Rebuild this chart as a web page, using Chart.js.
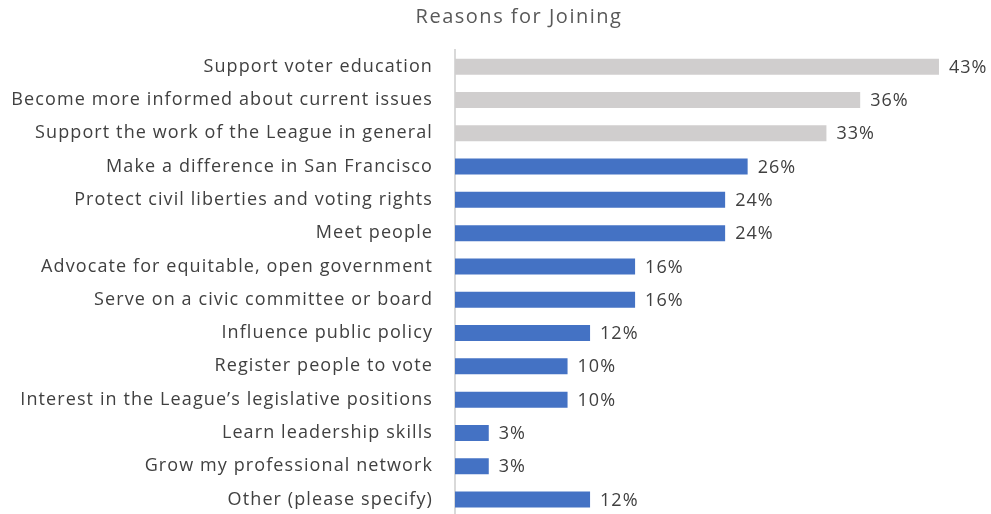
<!DOCTYPE html>
<html>
<head>
<meta charset="utf-8">
<script src="https://cdn.jsdelivr.net/npm/chart.js@4"></script>
<style>
  html, body { margin: 0; padding: 0; background: #fff; overflow: hidden; }
</style>
</head>
<body>
<!-- taller than the window: the reference crops the last row's band at the bottom -->
<canvas id="myChart" width="991" height="549"></canvas>
<script>
var reasons = [
  "Support voter education",
  "Become more informed about current issues",
  "Support the work of the League in general",
  "Make a difference in San Francisco",
  "Protect civil liberties and voting rights",
  "Meet people",
  "Advocate for equitable, open government",
  "Serve on a civic committee or board",
  "Influence public policy",
  "Register people to vote",
  "Interest in the League\u2019s legislative positions",
  "Learn leadership skills",
  "Grow my professional network",
  "Other (please specify)"
];
var percents = [43, 36, 33, 26, 24, 24, 16, 16, 12, 10, 10, 3, 3, 12];
var barColors = ["#D0CECE", "#D0CECE", "#D0CECE", "#4472C4", "#4472C4", "#4472C4", "#4472C4",
  "#4472C4", "#4472C4", "#4472C4", "#4472C4", "#4472C4", "#4472C4", "#4472C4"];

var fontFamily = "'Open Sans', sans-serif";

// the original text is set a little loose, so widen the letters a bit
var spacing = {
  id: "spacing",
  beforeUpdate: function(chart) { chart.ctx.letterSpacing = "1.1px"; },
  beforeDraw: function(chart) { chart.ctx.letterSpacing = "1.1px"; }
};

// title drawn by hand so it sits where the original has it
var titlePlugin = {
  id: "titleText",
  afterDraw: function(chart) {
    var c = chart.ctx;
    c.save();
    c.font = "20px " + fontFamily;
    c.letterSpacing = "1.5px";
    c.fillStyle = "#595959";
    c.textAlign = "center";
    c.textBaseline = "middle";
    c.fillText("Reasons for Joining", 519, 17);
    c.restore();
  }
};

// value labels at the end of each bar
var valueLabels = {
  id: "valueLabels",
  afterDatasetsDraw: function(chart) {
    var c = chart.ctx;
    var meta = chart.getDatasetMeta(0);
    c.save();
    c.font = "18px " + fontFamily;
    c.letterSpacing = "1px";
    c.fillStyle = "#404040";
    c.textAlign = "left";
    c.textBaseline = "middle";
    meta.data.forEach(function(bar, i) {
      c.fillText(percents[i] + "%", bar.x + 10, bar.y + 1);
    });
    c.restore();
  }
};

var ctx = document.getElementById("myChart");
new Chart(ctx, {
  type: "bar",
  data: {
    labels: reasons,
    datasets: [{
      data: percents,
      backgroundColor: barColors,
      borderWidth: 0,
      barPercentage: 0.48,
      categoryPercentage: 1
    }]
  },
  options: {
    indexAxis: "y",
    responsive: false,
    animation: false,
    layout: {
      padding: { top: 50, right: 7, bottom: 0, left: 0 }
    },
    plugins: {
      legend: { display: false },
      title: { display: false },
      tooltip: { enabled: false }
    },
    scales: {
      x: {
        display: false,
        min: 0,
        max: 47
      },
      y: {
        afterFit: function(scale) { scale.width = 455; },
        grid: { display: false, drawTicks: false },
        border: { display: true, color: "#D9D9D9", width: 2 },
        ticks: {
          color: "#404040",
          padding: 22,
          font: { family: fontFamily, size: 18 }
        }
      }
    }
  },
  plugins: [spacing, titlePlugin, valueLabels]
});
</script>
</body>
</html>
